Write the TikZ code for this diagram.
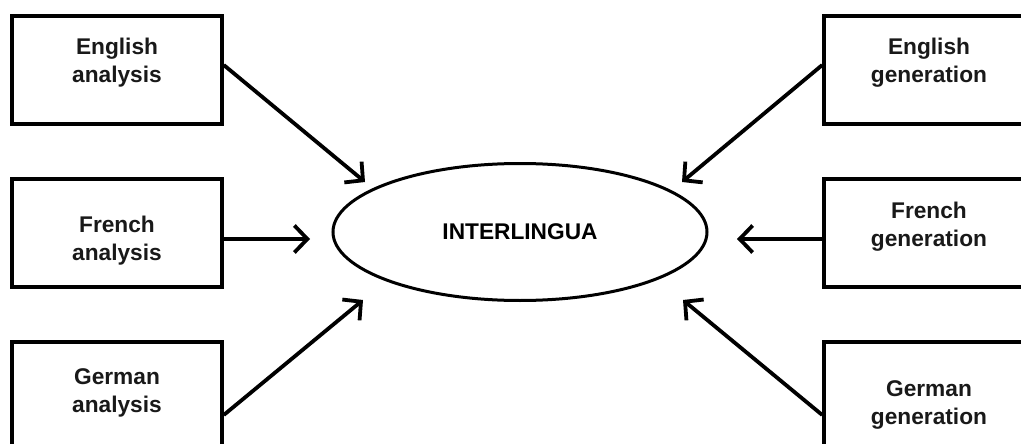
\documentclass[tikz,border=0pt]{standalone}
\usepackage{fontspec}
\setmainfont{Liberation Sans}
\usetikzlibrary{arrows.meta,shapes.geometric,calc}
\tikzset{
  boxnode/.style={draw=black, line width=3.5pt, minimum width=210pt, minimum height=108pt, inner sep=0pt},
  txt/.style={font=\bfseries\fontsize{22.7}{28}\selectfont, align=center, text=black!90, inner sep=0pt},
  arr/.style={line width=3.8pt, -{Straight Barb[length=13pt,width=27pt,line width=3.8pt]}},
  ell/.style={draw=black, ellipse, line width=3pt, minimum width=374pt, minimum height=137pt, inner sep=0pt}
}
\begin{document}
\begin{tikzpicture}[x=1pt,y=-1pt]
\useasboundingbox (0,0) rectangle (1021,444);
\clip (0,0) rectangle (1021,444);
\fill[white] (0,0) rectangle (1021,444);
% boxes
\node[boxnode] (ea) at (117,70) {};
\node[boxnode] (fa) at (117,233) {};
\node[boxnode] (ga) at (117,396) {};
\node[boxnode] (eg) at (929,70) {};
\node[boxnode] (fg) at (929,233) {};
\node[boxnode] (gg) at (929,396) {};
% texts
\node[txt] (eat) at (117,63) {English\\analysis};
\node[txt] (fat) at (117,241) {French\\analysis};
\node[txt] (gat) at (117,393) {German\\analysis};
\node[txt] (egt) at (929,63) {English\\generation};
\node[txt] (fgt) at (929,227) {French\\generation};
\node[txt] (ggt) at (929,405) {German\\generation};
% ellipse
\node[ell, font=\bfseries\fontsize{22.7}{28}\selectfont] (il) at (520,232) {INTERLINGUA};
% arrow tips
\coordinate (t1) at (365,182);
\coordinate (t2) at (310,239);
\coordinate (t3) at (363,300);
\coordinate (t4) at (682,182);
\coordinate (t5) at (737,239);
\coordinate (t6) at (683,300);
\draw[arr] ([yshift=5pt]ea.east) -- (t1);
\draw[arr] ([yshift=-6pt]fa.east) -- (t2);
\draw[arr] ([yshift=-19pt]ga.east) -- (t3);
\draw[arr] ([yshift=5pt]eg.west) -- (t4);
\draw[arr] ([yshift=-6pt]fg.west) -- (t5);
\draw[arr] ([yshift=-19pt]gg.west) -- (t6);
\end{tikzpicture}
\end{document}
